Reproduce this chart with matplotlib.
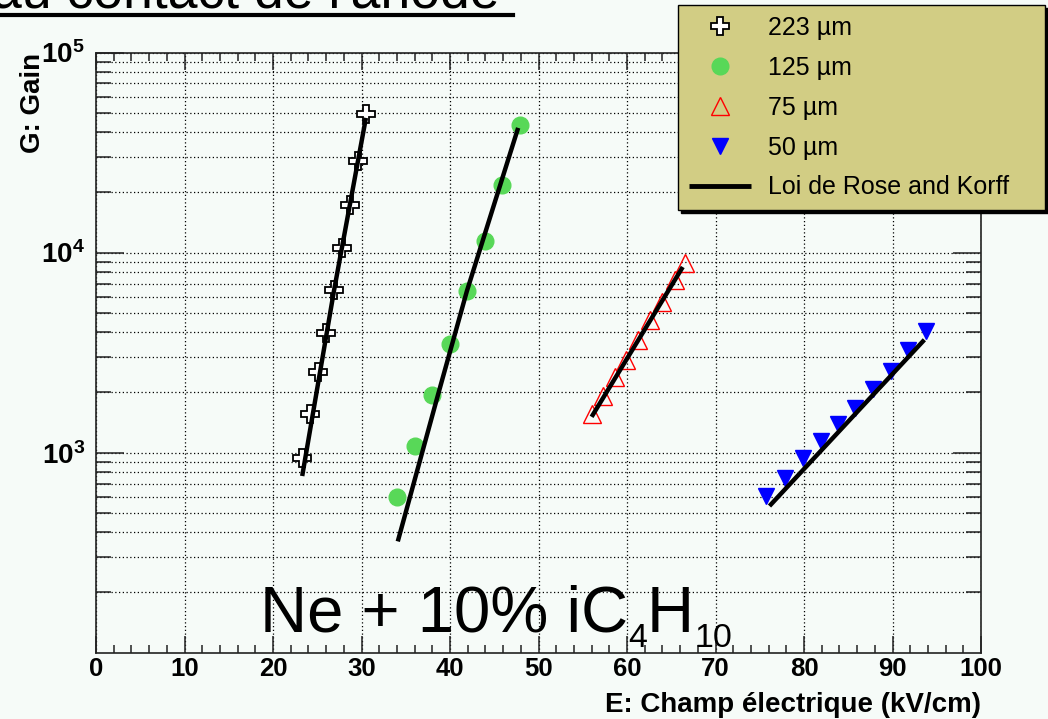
import matplotlib.pyplot as plt
from matplotlib.lines import Line2D
from matplotlib.ticker import MultipleLocator, LogLocator, NullFormatter
from matplotlib.transforms import IdentityTransform

plt.rcParams['font.family'] = ['Liberation Sans', 'DejaVu Sans']
plt.rcParams['mathtext.fontset'] = 'custom'
plt.rcParams['mathtext.rm'] = 'Liberation Sans'
plt.rcParams['mathtext.bf'] = 'Liberation Sans:bold'

# gain measurements vs electric field, one series per gap
E_223 = [23.3, 24.2, 25.1, 26.0, 26.9, 27.8, 28.7, 29.6, 30.5]
G_223 = [944, 1560, 2520, 3950, 6480, 10500, 17300, 28800, 49500]
E_125 = [34.0, 36.0, 38.0, 40.0, 41.9, 43.9, 45.9, 47.9]
G_125 = [600, 1080, 1950, 3500, 6400, 11450, 21800, 43500]
E_75 = [56.0, 57.3, 58.6, 59.9, 61.2, 62.6, 64.0, 65.4, 66.5]
G_75 = [1560, 1920, 2400, 2920, 3660, 4580, 5660, 7280, 8910]
E_50 = [75.7, 77.8, 79.9, 81.9, 83.8, 85.8, 87.8, 89.8, 91.7, 93.8]
G_50 = [607, 750, 944, 1145, 1390, 1680, 2080, 2570, 3240, 4050]

# Rose & Korff curves
fit_E_223 = [23.3, 26.9, 30.5]
fit_G_223 = [764, 6480, 47100]
fit_E_125 = [34.1, 38.65, 41.9, 47.7]
fit_G_125 = [360, 1950, 6400, 42000]
fit_E_75 = [56.0, 66.3]
fit_G_75 = [1510, 8470]
fit_E_50 = [76.1, 93.6]
fit_G_50 = [541, 3665]

labels = ['223 µm', '125 µm', '75 µm', '50 µm', 'Loi de Rose and Korff']
xticks = [0, 10, 20, 30, 40, 50, 60, 70, 80, 90, 100]
yticks = [1e3, 1e4, 1e5]
ylabels = [r'$\mathbf{10^{3}}$', r'$\mathbf{10^{4}}$', r'$\mathbf{10^{5}}$']

bg = '#f6fbf8'
W, H = 1048, 719
fig = plt.figure(figsize=(W / 100, H / 100), dpi=100, facecolor=bg)

# slide heading, cut at the top
fig.text(-8 / W, 1 - 7 / H, "au contact de l'anode", fontsize=38.5, va='baseline', ha='left')
fig.add_artist(Line2D([0, 513 / W], [1 - 15 / H] * 2, color='black', lw=3,
                      transform=fig.transFigure))

ax = fig.add_axes([96 / W, 1 - 652.7 / H, 885 / W, 600.2 / H])
ax.set_facecolor(bg)

h1, = ax.plot(E_223, G_223, ls='none', marker='P', ms=13, mfc='white', mec='black', mew=1.3, zorder=3)
h2, = ax.plot(E_125, G_125, ls='none', marker='o', ms=12, mfc='#58d858', mec='#58d858', zorder=3)
h3, = ax.plot(E_75, G_75, ls='none', marker='^', ms=13, mfc='none', mec='red', mew=1.0, zorder=3)
h4, = ax.plot(E_50, G_50, ls='none', marker='v', ms=12, mfc='blue', mec='blue', zorder=3)

for fe, fg in [(fit_E_223, fit_G_223), (fit_E_125, fit_G_125),
               (fit_E_75, fit_G_75), (fit_E_50, fit_G_50)]:
    hf, = ax.plot(fe, fg, color='black', lw=3.2, solid_capstyle='butt', zorder=4)

ax.set_yscale('log')
ax.set_xlim(0, 100)
ax.set_ylim(100, 1e5)

ax.set_xticks(xticks, labels=[str(t) for t in xticks], fontsize=18.5, fontweight='bold')
ax.xaxis.set_minor_locator(MultipleLocator(2))
ax.set_yticks(yticks, labels=ylabels, fontsize=20)
ax.yaxis.set_minor_locator(LogLocator(base=10, subs=range(2, 10)))
ax.yaxis.set_minor_formatter(NullFormatter())

ax.tick_params(which='both', direction='in', top=True, right=True, width=1.1, color='#222222')
ax.tick_params(axis='x', which='major', length=12, pad=3)
ax.tick_params(axis='x', which='minor', length=6)
ax.tick_params(axis='y', which='major', length=20, pad=8)
ax.tick_params(axis='y', which='minor', length=11)

dots = (0, (1, 2))
ax.grid(axis='x', which='major', ls=dots, color='black', lw=0.9)
ax.grid(axis='y', which='both', ls=dots, color='black', lw=0.9)
ax.set_axisbelow(True)
for sp in ax.spines.values():
    sp.set_linewidth(1.2)
    sp.set_color('#222222')

ax.set_xlabel('E: Champ électrique (kV/cm)', fontsize=20, fontweight='bold', ha='right')
ax.xaxis.set_label_coords(1.0, -0.066)
ax.xaxis.label.set_va('top')
ax.set_ylabel('G: Gain', fontsize=20, fontweight='bold', ha='right')
ax.yaxis.set_label_coords(-0.056, 1.0)

leg = ax.legend([h1, h2, h3, h4, hf], labels, loc='upper left',
                bbox_to_anchor=(678 / W, 1 - 210 / H, 367 / W, 205 / H),
                bbox_transform=fig.transFigure, mode='expand', borderaxespad=0,
                fontsize=18, numpoints=1, handlelength=2.5, handletextpad=0.7,
                labelspacing=0.64, borderpad=0.42, fancybox=False, framealpha=1,
                facecolor='#d2cd84', edgecolor='black',
                shadow={'color': 'black', 'alpha': 1})
leg.get_frame().set_linewidth(1.0)
leg.set_zorder(10)
leg.get_lines()[4].set_linewidth(3.5)

# gas mixture label with hand-placed subscripts
fig.canvas.draw()
renderer = fig.canvas.get_renderer()
x = 260
base = H - 632
for s, fs, dy in [('Ne + 10% iC', 47, 0), ('4', 24.5, -15), ('H', 47, 0), ('10', 24.5, -15)]:
    t = fig.text(x, base + dy, s, fontsize=fs, va='baseline', ha='left',
                 transform=IdentityTransform())
    x = t.get_window_extent(renderer).x1

fig.savefig('out.png', dpi=100, facecolor=bg)
